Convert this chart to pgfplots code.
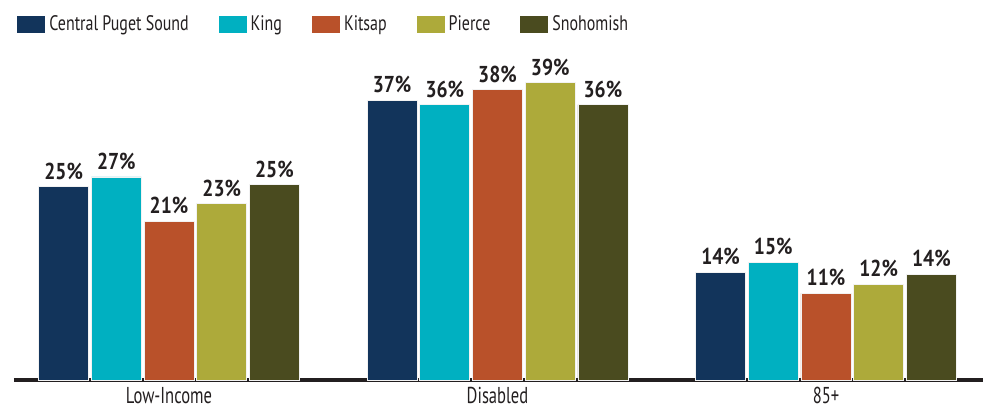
\documentclass[border=0pt]{standalone}
\usepackage{pgfplots}
\pgfplotsset{compat=1.18}
\usepackage{fontspec}
\setmainfont{PT Sans}[FakeStretch=0.76]
\newfontfamily\catfont{PT Sans}[FakeStretch=0.72]
\newfontfamily\numfont{PT Sans}[FakeStretch=0.85]
\definecolor{cps}{HTML}{12345B}
\definecolor{king}{HTML}{00B0C1}
\definecolor{kitsap}{HTML}{B9512A}
\definecolor{pierce}{HTML}{ADAA3A}
\definecolor{snoh}{HTML}{4A4B1F}
\definecolor{ink}{HTML}{231F20}
\begin{document}
\begin{tikzpicture}
\begin{axis}[
	name=ax,
	scale only axis,
	width=484.5pt, height=165pt,
	xmin=-0.472, xmax=2.478, ymin=0, ymax=43.4,
	ybar=1.35pt, bar width=25pt,
	axis x line*=bottom, axis y line=none,
	x axis line style={line width=1.8pt, color=ink, -},
	xtick={0,1,2}, xticklabels={Low-Income,Disabled,85+},
	major tick length=0pt,
	xticklabel style={font=\catfont\fontsize{11.5}{12}\selectfont, text=ink, inner sep=3.5pt},
	point meta=explicit symbolic,
	nodes near coords={\pgfplotspointmeta\%},
	nodes near coords style={font=\numfont\bfseries\fontsize{11.5}{12}\selectfont, text=ink, anchor=south, inner sep=3.3pt},
	every axis plot/.append style={draw=white!90!gray, line width=0.4pt},
	legend columns=5,
	legend style={at={(0,1)}, anchor=west, xshift=1.5pt, yshift=12.75pt, draw=none, fill=none, inner sep=0pt,
		font=\fontsize{10.5}{11}\selectfont, text=ink,
		/tikz/every even column/.append style={column sep=13pt}},
	legend image code/.code={\fill[#1, draw=none] (0pt,-4.25pt) rectangle (14pt,4.25pt);},
]
\addplot[fill=cps] coordinates {(0,25.4) [25] (1,36.8) [37] (2,14.2) [14]};
\addplot[fill=king] coordinates {(0,26.7) [27] (1,36.2) [36] (2,15.5) [15]};
\addplot[fill=kitsap] coordinates {(0,20.9) [21] (1,38.2) [38] (2,11.4) [11]};
\addplot[fill=pierce] coordinates {(0,23.2) [23] (1,39.1) [39] (2,12.6) [12]};
\addplot[fill=snoh] coordinates {(0,25.7) [25] (1,36.2) [36] (2,13.9) [14]};
\legend{Central Puget Sound,King,Kitsap,Pierce,Snohomish}
\end{axis}
\pgfresetboundingbox
\path ([xshift=-7pt,yshift=-14.5pt]ax.south west) rectangle ([yshift=25pt]ax.north east);
\end{tikzpicture}
\end{document}
